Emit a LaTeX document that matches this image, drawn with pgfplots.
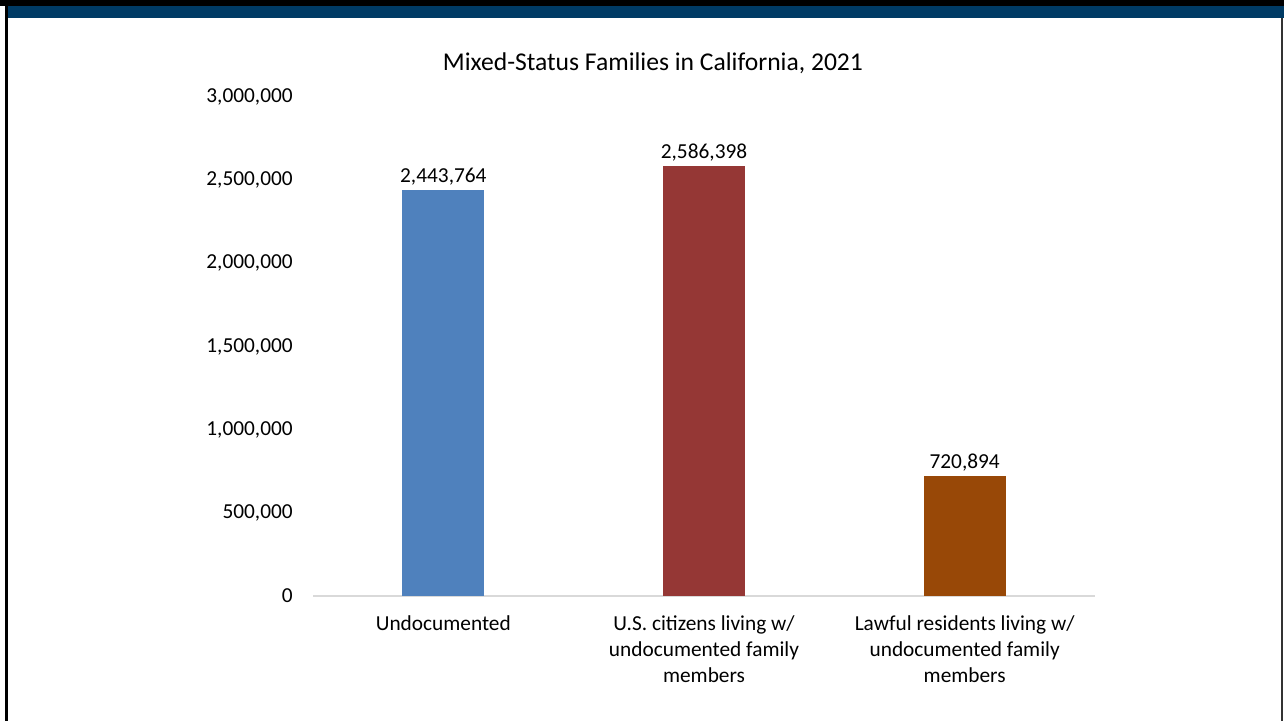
\documentclass[border=0pt]{standalone}
\usepackage{fontspec}
\setmainfont{Carlito}
\usepackage{pgfplots}
\pgfplotsset{compat=1.18}

\definecolor{barblue}{HTML}{4F81BD}
\definecolor{barred}{HTML}{953735}
\definecolor{barbrown}{HTML}{984807}
\definecolor{bandblue}{HTML}{003B65}
\definecolor{baseline}{HTML}{D9D9D9}

\begin{document}
\begin{tikzpicture}[x=0.75pt,y=0.75pt]
  % page frame, in reference pixels
  \useasboundingbox (0,0) rectangle (1284,721);
  \fill[white] (0,0) rectangle (1284,721);
  \fill[black] (0,715) rectangle (1284,721);
  \fill[bandblue] (5,703) rectangle (1284,715);
  \fill[black] (5,0) rectangle (8,715);
  \fill[black!80] (1281,0) rectangle (1283,703);
  \node[font=\fontsize{19.2}{22}\selectfont] at (653,658) {Mixed-Status Families in California, 2021};

  \begin{axis}[
      at={(234.75pt,93.75pt)}, anchor=south west,
      scale only axis,
      width=586.5pt, height=374.25pt,
      ybar, bar width=61.5pt,
      xmin=-0.5, xmax=2.5,
      ymin=0, ymax=3000000,
      scaled y ticks=false,
      axis x line*=bottom,
      axis y line*=left,
      x axis line style={-, draw=baseline, line width=1pt},
      y axis line style={draw=none},
      major tick length=0pt,
      tick style={draw=none},
      xtick={0,1,2},
      xticklabels={Undocumented,
        U.S. citizens living w/\\undocumented family\\members,
        Lawful residents living w/\\undocumented family\\members},
      xticklabel style={align=center, font=\fontsize{16}{19.5}\selectfont, yshift=-11pt},
      ytick={0,500000,1000000,1500000,2000000,2500000,3000000},
      yticklabels={0,{500,000},{1,000,000},{1,500,000},{2,000,000},{2,500,000},{3,000,000}},
      yticklabel style={font=\fontsize{16}{19}\selectfont, anchor=east, inner xsep=0pt, xshift=-15pt},
      point meta=explicit symbolic,
      nodes near coords,
      every node near coord/.append style={font=\fontsize{16}{19}\selectfont, text=black},
    ]
    \addplot[draw=none, fill=barblue, bar shift=0pt] coordinates {(0,2443764) [{2,443,764}]};
    \addplot[draw=none, fill=barred, bar shift=0pt] coordinates {(1,2586398) [{2,586,398}]};
    \addplot[draw=none, fill=barbrown, bar shift=0pt] coordinates {(2,720894) [{720,894}]};
  \end{axis}
\end{tikzpicture}
\end{document}
